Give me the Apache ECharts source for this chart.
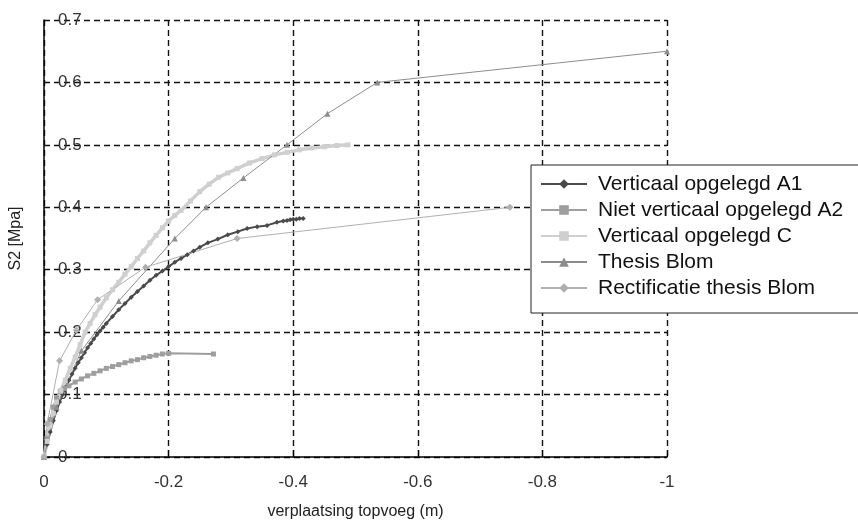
<!DOCTYPE html>
<html>
<head>
<meta charset="utf-8">
<script src="https://cdn.jsdelivr.net/npm/echarts@6/dist/echarts.min.js"></script>
<style>
html,body{margin:0;padding:0;background:#fff;}
#c{width:858px;height:525px;}
</style>
</head>
<body>
<div id="c"></div>
<script>
var seriesNames = ["Verticaal opgelegd A1", "Niet verticaal opgelegd A2", "Verticaal opgelegd C", "Thesis Blom", "Rectificatie thesis Blom"];
var xTickValues = [0, -0.2, -0.4, -0.6, -0.8, -1];
var yTickValues = [0, 0.1, 0.2, 0.3, 0.4, 0.5, 0.6, 0.7];

var xA1 = [0, -0.005, -0.01, -0.015, -0.02, -0.025, -0.03, -0.035, -0.04, -0.045, -0.05, -0.055, -0.06, -0.065, -0.07, -0.075, -0.08, -0.085, -0.09, -0.095, -0.1, -0.11, -0.12, -0.13, -0.14, -0.15, -0.16, -0.17, -0.18, -0.19, -0.2, -0.21, -0.22, -0.23, -0.24, -0.25, -0.263, -0.279, -0.295, -0.311, -0.326, -0.342, -0.358, -0.374, -0.384, -0.39, -0.395, -0.4, -0.405, -0.41, -0.416];
var yA1 = [0, 0.02, 0.04, 0.058, 0.074, 0.088, 0.1, 0.112, 0.123, 0.133, 0.142, 0.151, 0.159, 0.167, 0.175, 0.182, 0.189, 0.196, 0.202, 0.208, 0.214, 0.225, 0.236, 0.246, 0.256, 0.265, 0.274, 0.283, 0.291, 0.298, 0.305, 0.312, 0.318, 0.324, 0.33, 0.336, 0.343, 0.349, 0.356, 0.361, 0.366, 0.369, 0.371, 0.376, 0.378, 0.379, 0.38, 0.381, 0.381, 0.382, 0.382];

var xA2 = [0, -0.005, -0.01, -0.015, -0.02, -0.026, -0.033, -0.04, -0.05, -0.06, -0.07, -0.08, -0.09, -0.1, -0.11, -0.12, -0.13, -0.14, -0.15, -0.16, -0.17, -0.18, -0.19, -0.2, -0.272];
var yA2 = [0, 0.03, 0.06, 0.08, 0.095, 0.105, 0.11, 0.114, 0.12, 0.125, 0.13, 0.134, 0.138, 0.142, 0.145, 0.148, 0.151, 0.154, 0.156, 0.159, 0.161, 0.163, 0.165, 0.166, 0.165];

var xC = [0, -0.005, -0.01, -0.015, -0.02, -0.027, -0.034, -0.042, -0.05, -0.058, -0.066, -0.074, -0.082, -0.09, -0.1, -0.11, -0.12, -0.13, -0.14, -0.15, -0.16, -0.17, -0.18, -0.19, -0.2, -0.21, -0.22, -0.235, -0.25, -0.265, -0.28, -0.295, -0.31, -0.33, -0.35, -0.37, -0.39, -0.41, -0.43, -0.45, -0.47, -0.488];
var yC = [0, 0.025, 0.05, 0.07, 0.088, 0.106, 0.123, 0.142, 0.16, 0.18, 0.2, 0.214, 0.228, 0.24, 0.255, 0.268, 0.28, 0.293, 0.305, 0.318, 0.33, 0.343, 0.355, 0.367, 0.378, 0.387, 0.395, 0.41, 0.425, 0.437, 0.448, 0.455, 0.462, 0.471, 0.478, 0.484, 0.488, 0.492, 0.495, 0.497, 0.499, 0.5];

var xBlom = [0, -0.02, -0.06, -0.12, -0.21, -0.26, -0.32, -0.39, -0.455, -0.535, -1];
var yBlom = [0, 0.08, 0.17, 0.25, 0.35, 0.4, 0.447, 0.5, 0.55, 0.6, 0.65];

var xRect = [0, -0.005, -0.025, -0.052, -0.086, -0.163, -0.31, -0.748];
var yRect = [0, 0.053, 0.154, 0.203, 0.252, 0.304, 0.35, 0.4];

function zip(xs, ys){ return xs.map(function(x,i){ return [x, ys[i]]; }); }

var FONT = '"Liberation Sans", Arial, sans-serif';
var chart = echarts.init(document.getElementById('c'), null, {renderer:'canvas'});

var styles = [
  {color:'#4a4a4a', symbol:'diamond', size:5, width:2},
  {color:'#9e9e9e', symbol:'rect', size:5, width:2},
  {color:'#cfcfcf', symbol:'rect', size:5, width:3.5},
  {color:'#8c8c8c', symbol:'triangle', size:6, width:1},
  {color:'#b0b0b0', symbol:'diamond', size:7, width:1}
];
var datas = [zip(xA1,yA1), zip(xA2,yA2), zip(xC,yC), zip(xBlom,yBlom), zip(xRect,yRect)];

var series = seriesNames.map(function(n,i){
  var s = styles[i];
  return {
    name:n, type:'line', data:datas[i], symbol:s.symbol, symbolSize:s.size, showSymbol:true,
    lineStyle:{color:s.color, width:s.width}, itemStyle:{color:s.color}, animation:false
  };
});

chart.setOption({
  animation:false,
  backgroundColor:'#fff',
  grid:{left:44, right:191, top:20, bottom:68, containLabel:false},
  xAxis:{
    type:'value', min:-1, max:0, interval:0.2, inverse:true,
    name:'verplaatsing topvoeg (m)', nameLocation:'middle', nameGap:47,
    nameTextStyle:{fontSize:16, fontFamily:FONT, color:'#222'},
    axisLine:{show:true, onZero:true, lineStyle:{color:'#000', width:1.5}},
    axisTick:{show:true, inside:true, length:7, lineStyle:{color:'#000', width:1.2}},
    axisLabel:{fontSize:17, fontFamily:FONT, color:'#333', margin:17,
      formatter:function(v){ return xTickValues.indexOf(+v.toFixed(1))>=0 ? String(+v.toFixed(1)) : ''; }},
    splitLine:{show:true, lineStyle:{color:'#111', width:1.4, type:[6,4]}}
  },
  yAxis:{
    type:'value', min:0, max:0.7, interval:0.1,
    name:'S2 [Mpa]', nameLocation:'middle', nameGap:20, nameRotate:90,
    nameTextStyle:{fontSize:16, fontFamily:FONT, color:'#222'},
    axisLine:{show:true, lineStyle:{color:'#000', width:1.5}},
    axisTick:{show:false},
    axisLabel:{inside:true, margin:14, fontSize:17, fontFamily:FONT, color:'#333',
      formatter:function(v){ return String(+v.toFixed(1)); }},
    splitLine:{show:true, lineStyle:{color:'#111', width:1.4, type:[6,4]}}
  },
  legend:{
    orient:'vertical', left:531, top:165,
    padding:[8, 200, 14, 9],
    backgroundColor:'#fff', borderColor:'#222', borderWidth:1,
    itemWidth:46, itemHeight:12, itemGap:4,
    textStyle:{fontSize:21, fontFamily:FONT, color:'#111', lineHeight:22, padding:[0,0,0,6]},
    data:seriesNames
  },
  series:series
});
</script>
</body>
</html>
